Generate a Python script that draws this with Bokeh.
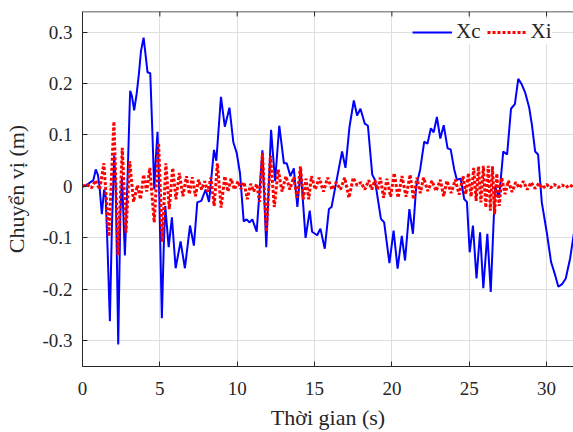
from bokeh.plotting import figure
from bokeh.models import (Range1d, FixedTicker, CustomJSTickFormatter,
                          Legend, LegendItem)
from bokeh.embed import file_html
from bokeh.resources import INLINE

# ---------------- data ----------------
xc_t = [0.0, 0.3, 0.5, 0.7, 0.86, 1.0, 1.1, 1.25, 1.4, 1.5, 1.62, 1.77, 1.9, 2.05, 2.15,
        2.31, 2.45, 2.55, 2.74, 2.91, 3.08, 3.2, 3.34, 3.5, 3.65, 3.78, 3.95, 4.1, 4.2,
        4.38, 4.5, 4.64, 4.75, 4.85, 4.95, 5.13, 5.25, 5.35, 5.57, 5.78, 6.02, 6.34, 6.62,
        6.95, 7.2, 7.42, 7.68, 7.96, 8.18, 8.5, 8.65, 8.95, 9.2, 9.5, 9.75, 9.97, 10.18,
        10.42, 10.61, 10.8, 10.98, 11.26, 11.63, 11.88, 12.19, 12.45, 12.72, 13.02, 13.2,
        13.44, 13.66, 13.89, 14.1, 14.42, 14.69, 14.84, 15.17, 15.38, 15.66, 15.93, 16.1,
        16.35, 16.78, 17.0, 17.26, 17.54, 17.75, 17.97, 18.25, 18.45, 18.73, 18.9, 19.29,
        19.5, 19.84, 20.11, 20.37, 20.64, 20.85, 21.13, 21.36, 21.57, 21.83, 22.09, 22.3,
        22.52, 22.7, 22.91, 23.13, 23.35, 23.6, 23.8, 24.03, 24.2, 24.45, 24.68, 24.85,
        25.03, 25.24, 25.47, 25.7, 25.91, 26.17, 26.39, 26.67, 26.93, 27.2, 27.45, 27.7,
        27.95, 28.17, 28.4, 28.61, 28.87, 29.05, 29.26, 29.45, 29.69, 30.01, 30.29, 30.55,
        30.76, 31.0, 31.24, 31.52, 31.78]
xc_y = [0.0, 0.003, 0.008, 0.012, 0.033, 0.022, 0.0, -0.054, -0.006, -0.02, -0.12, -0.262,
        -0.08, 0.06, 0.0, -0.307, -0.05, 0.02, -0.134, 0.013, 0.186, 0.175, 0.148, 0.18,
        0.22, 0.263, 0.289, 0.25, 0.222, 0.22, 0.12, -0.006, 0.06, 0.106, 0.0, -0.256,
        -0.12, -0.038, -0.118, -0.06, -0.159, -0.107, -0.159, -0.076, -0.115, -0.031,
        -0.028, -0.006, -0.03, 0.071, 0.05, 0.174, 0.116, 0.153, 0.086, 0.065, 0.026,
        -0.068, -0.064, -0.07, -0.064, -0.088, 0.07, -0.118, 0.11, 0.01, 0.118, 0.045,
        0.045, 0.02, 0.035, -0.04, 0.034, -0.1, -0.047, -0.088, -0.095, -0.082, -0.121,
        -0.044, -0.04, 0.0, 0.068, 0.036, 0.116, 0.167, 0.138, 0.151, 0.122, 0.118,
        0.023, 0.013, -0.063, -0.07, -0.149, -0.086, -0.16, -0.096, -0.144, -0.044,
        -0.092, 0.0, 0.033, 0.087, 0.083, 0.113, 0.105, 0.135, 0.093, 0.119, 0.074,
        0.072, 0.033, 0.013, 0.015, -0.025, -0.03, -0.128, -0.076, -0.179, -0.089,
        -0.198, -0.092, -0.205, 0.0, -0.022, 0.068, 0.062, 0.151, 0.16, 0.209, 0.198,
        0.183, 0.154, 0.12, 0.068, 0.062, -0.031, -0.089, -0.147, -0.172, -0.195, -0.19,
        -0.179, -0.14, -0.088]

# Xi: times of successive crests, crest values and the trough that follows each crest
xi_t = [0.30, 0.85, 1.38, 2.03, 2.57, 3.05, 3.55, 3.95, 4.35, 4.92, 5.39, 5.83, 6.26,
        6.72, 7.10, 7.50, 7.90, 8.30, 8.72, 9.20, 9.60, 10.05, 10.44, 10.87, 11.26, 11.63,
        12.15, 12.65, 13.15, 13.65, 14.09, 14.45, 14.80, 15.30, 15.85, 16.40, 16.95, 17.50,
        18.00, 18.50, 18.90, 19.25, 19.68, 20.15, 20.65, 21.18, 21.62, 22.05, 22.59, 23.13,
        23.56, 24.10, 24.60, 24.95, 25.29, 25.60, 25.91, 26.23, 26.50, 26.78, 27.10, 27.53,
        28.00, 28.50, 29.00, 29.50, 30.00, 30.50, 31.00, 31.50]
xi_hi = [0.004, 0.012, 0.045, 0.126, 0.075, 0.049, 0.002, 0.023, 0.036, 0.084, 0.045,
         0.036, 0.026, 0.020, 0.018, 0.013, 0.010, 0.017, 0.045, 0.020, 0.015, 0.010,
         0.008, 0.005, 0.005, 0.065, 0.060, 0.033, 0.020, 0.018, 0.039, 0.015, 0.020,
         0.017, 0.017, 0.008, 0.017, 0.017, 0.008, 0.012, 0.012, 0.017, 0.015, 0.026,
         0.020, 0.023, 0.017, 0.017, 0.011, 0.013, 0.011, 0.013, 0.020, 0.026, 0.036,
         0.039, 0.040, 0.040, 0.039, 0.025, 0.017, 0.011, 0.008, 0.010, 0.008, 0.006,
         0.004, 0.004, 0.003, 0.003]
xi_lo = [-0.003, -0.006, -0.097, -0.134, -0.090, -0.030, -0.025, -0.010, -0.070, -0.108,
         -0.044, -0.025, -0.019, -0.015, -0.019, -0.006, -0.010, -0.038, -0.041, -0.010,
         -0.006, -0.005, -0.025, -0.010, -0.030, -0.088, -0.040, -0.010, -0.006, -0.022,
         -0.025, -0.025, -0.006, -0.010, -0.006, -0.006, -0.022, 0.002, -0.006, -0.006,
         -0.006, -0.022, -0.020, -0.022, -0.020, -0.025, -0.013, -0.009, -0.009, -0.019,
         -0.013, -0.016, -0.015, -0.020, -0.028, -0.031, -0.041, -0.047, -0.054, -0.038,
         -0.015, -0.011, -0.003, -0.006, -0.004, -0.004, -0.003, -0.002, -0.002, -0.002]

x_ticks = [0, 5, 10, 15, 20, 25, 30]
y_ticks = [-0.3, -0.2, -0.1, 0, 0.1, 0.2, 0.3]

# build the Xi path: crest, then trough half way to the next crest
xi_path_t = [0.0]
xi_path_y = [0.0]
for i, t in enumerate(xi_t):
    xi_path_t.append(t)
    xi_path_y.append(xi_hi[i])
    t_next = xi_t[i + 1] if i + 1 < len(xi_t) else t + 0.5
    xi_path_t.append((t + t_next) / 2.0)
    xi_path_y.append(xi_lo[i])

# ---------------- figure ----------------
FONT = "Liberation Serif"
DARK = "#262626"
X0, X1 = 0, 31.74
Y0, Y1 = -0.35, 0.34
FRAME_H = 358

p = figure(width=573, height=432, output_backend="svg", toolbar_location=None,
           x_range=Range1d(X0, X1), y_range=Range1d(Y0, Y1),
           min_border_left=82, min_border_right=0, min_border_top=11, min_border_bottom=63)
p.outline_line_color = None
p.background_fill_color = "white"
p.border_fill_color = "white"

r_c = p.line(xc_t, xc_y, line_color="#0000ff", line_width=2)
r_i = p.line(xi_path_t, xi_path_y, line_color="#ff0000", line_width=3,
             line_dash="3 2", line_cap="butt")

fmt = CustomJSTickFormatter(code="return Math.abs(tick) < 1e-9 ? '0' : tick.toFixed(1);")

p.axis.major_tick_in = 5
p.axis.major_tick_out = 0
p.axis.minor_tick_in = 0
p.axis.minor_tick_out = 0
p.axis.axis_line_color = DARK
p.axis.major_tick_line_color = DARK
p.axis.major_label_text_font = FONT
p.axis.major_label_text_font_size = "19px"
p.axis.major_label_text_color = DARK
p.axis.axis_label_text_font = FONT
p.axis.axis_label_text_font_size = "22px"
p.axis.axis_label_text_font_style = "normal"
p.axis.axis_label_text_color = DARK

p.xaxis.ticker = FixedTicker(ticks=x_ticks)
p.yaxis.ticker = FixedTicker(ticks=y_ticks)
p.yaxis.formatter = fmt
p.xaxis.axis_label = "Thời gian (s)"
p.yaxis.axis_label = "Chuyển vị (m)"
p.xaxis.major_label_standoff = 15
p.xaxis.axis_label_standoff = 7
p.yaxis.major_label_standoff = 10
p.yaxis.axis_label_standoff = 10

p.xgrid.ticker = FixedTicker(ticks=x_ticks)
p.ygrid.ticker = FixedTicker(ticks=y_ticks)
p.grid.grid_line_color = "#dedede"
p.grid.grid_line_width = 1

# top border of the box with inward ticks at the x tick positions
p.hspan(y=[Y1], line_color=DARK, line_width=1.5)
tick_len = 5 * (Y1 - Y0) / FRAME_H
p.segment(x0=x_ticks, y0=[Y1] * len(x_ticks), x1=x_ticks,
          y1=[Y1 - tick_len] * len(x_ticks), line_color=DARK, line_width=1)

legend = Legend(items=[LegendItem(label="Xc", renderers=[r_c]),
                       LegendItem(label="Xi", renderers=[r_i])],
                orientation="horizontal", location=(330, 322),
                label_text_font=FONT, label_text_font_size="21px", label_text_color=DARK,
                glyph_width=40, glyph_height=20, label_standoff=4, spacing=6, padding=3,
                border_line_color=None, background_fill_color="white",
                background_fill_alpha=1.0, margin=0)
p.add_layout(legend)

open("out.html", "w").write(file_html(p, INLINE))
